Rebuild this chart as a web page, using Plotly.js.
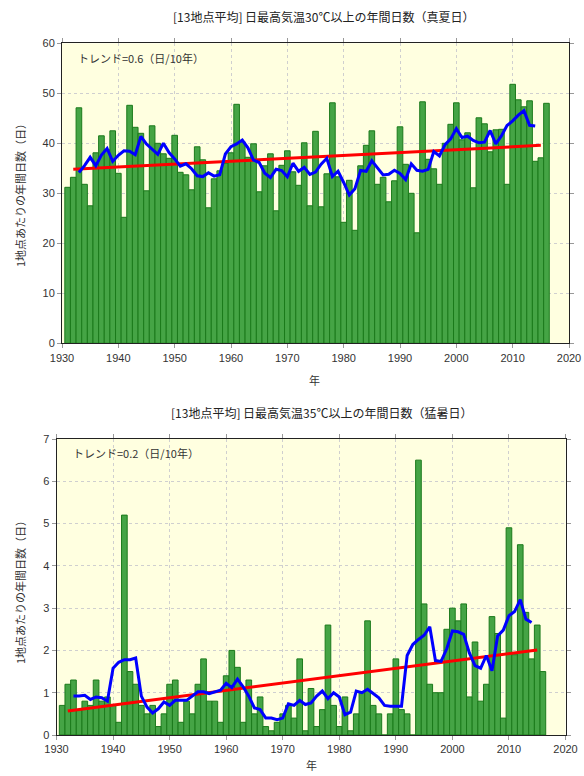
<!DOCTYPE html>
<html>
<head>
<meta charset="utf-8">
<script src="https://cdn.plot.ly/plotly-3.0.1.min.js"></script>
<style>html,body{margin:0;padding:0;background:#fff;}#chart{width:584px;height:776px;}</style>
</head>
<body>
<div id="chart"></div>
<script>
// Years of the bars
const years = [];
for (let y = 1931; y <= 2016; y++) years.push(y);

// 真夏日 (>=30°C) annual days, 1931-2016
const hotDays = [
31.2,33.2,47.1,31.8,27.5,38.1,41.5,38.7,42.5,34.0,
25.2,47.6,43.2,42.0,30.5,43.5,40.0,37.9,37.0,41.6,
34.2,33.7,30.7,39.3,36.7,27.1,32.9,34.5,36.0,38.1,
47.8,40.3,37.2,39.9,30.3,35.5,37.9,26.5,35.6,38.5,
34.3,31.6,40.1,27.5,42.4,27.3,33.9,48.1,33.3,24.2,
32.6,22.6,35.5,39.6,42.5,31.8,33.2,28.3,32.5,43.3,
35.8,30.0,22.1,48.3,36.8,34.9,31.8,40.0,43.8,48.1,
40.7,42.1,31.1,45.1,43.9,38.3,42.7,42.8,31.8,51.8,
48.7,47.3,48.5,36.4,37.1,48.0];

// 猛暑日 (>=35°C) annual days, 1931-2016
const veryHotDays = [
0.7,1.2,1.3,0.6,0.8,0.7,1.3,0.8,0.9,0.7,
0.3,5.2,1.5,1.2,0.7,0.5,0.7,0.2,0.5,1.2,
1.3,0.3,0.8,0.5,1.2,1.8,0.8,0.8,0.3,1.4,
2.0,1.6,0.3,1.3,0.5,0.9,0.2,0.1,0.3,0.5,
0.7,0.4,1.8,0.1,1.1,0.2,0.6,2.6,0.7,0.2,
0.9,0.1,0.5,1.0,2.7,0.7,0.5,0.0,0.5,1.8,
0.6,0.5,0.0,6.5,3.1,1.2,1.0,1.0,2.5,3.0,
2.7,3.1,0.9,2.2,0.8,1.2,2.8,2.4,0.4,4.9,
1.9,4.5,2.9,1.8,2.6,1.5];

// 5-year running mean years (blue line)
const maYears = [];
for (let y = 1933; y <= 2014; y++) maYears.push(y);

const hotMA = [
34.16,35.54,37.20,35.52,37.66,38.96,36.38,37.60,38.50,38.40,
37.70,41.36,39.84,38.78,37.78,40.00,38.14,36.88,35.44,35.90,
34.92,33.50,33.34,34.10,33.44,33.72,37.86,39.34,39.88,40.66,
39.10,36.64,36.16,34.02,33.16,34.80,34.56,33.30,36.02,34.40,
35.18,33.78,34.24,35.84,37.00,33.36,34.42,32.16,29.64,30.90,
34.56,34.40,36.52,35.08,33.66,33.82,34.62,33.98,32.74,35.90,
34.60,34.42,34.78,38.36,37.46,39.72,40.88,42.94,41.16,41.42,
40.58,40.10,40.22,42.56,39.90,41.48,43.56,44.48,45.62,46.54,
43.60,43.46];

const veryHotMA = [
0.92,0.92,0.94,0.84,0.90,0.88,0.80,1.58,1.72,1.78,
1.78,1.82,0.92,0.66,0.52,0.62,0.78,0.70,0.82,0.82,
0.82,0.92,1.02,1.02,0.98,1.02,1.06,1.22,1.12,1.32,
1.14,0.92,0.64,0.60,0.40,0.40,0.36,0.40,0.74,0.70,
0.82,0.72,0.76,0.92,1.04,0.86,1.00,0.90,0.48,0.54,
1.04,1.00,1.08,0.98,0.88,0.70,0.68,0.68,0.68,1.88,
2.14,2.26,2.36,2.56,1.76,1.74,2.04,2.46,2.44,2.38,
1.94,1.64,1.58,1.88,1.52,2.34,2.48,2.82,2.92,3.20,
2.74,2.66];

// Linear trend end points
const trendYears = [1932, 2015];
const hotTrend = [34.8, 39.6];
const veryHotTrend = [0.57, 2.01];

const titles = [
  "[13地点平均] 日最高気温30℃以上の年間日数（真夏日）",
  "[13地点平均] 日最高気温35℃以上の年間日数（猛暑日）"
];
const trendLabels = ["トレンド=0.6（日/10年）", "トレンド=0.2（日/10年）"];
const yTitle = "1地点あたりの年間日数（日）";
const xTitle = "年";

const barStyle = {color: "#45a445", line: {color: "#1b7a1b", width: 1}};
const traces = [
  {type: "bar", x: years, y: hotDays, xaxis: "x", yaxis: "y", marker: barStyle, hoverinfo: "skip"},
  {type: "scatter", mode: "lines", x: trendYears, y: hotTrend, xaxis: "x", yaxis: "y", line: {color: "#ff0000", width: 3}, hoverinfo: "skip"},
  {type: "scatter", mode: "lines", x: maYears, y: hotMA, xaxis: "x", yaxis: "y", line: {color: "#0000ff", width: 3}, hoverinfo: "skip"},
  {type: "bar", x: years, y: veryHotDays, xaxis: "x2", yaxis: "y2", marker: barStyle, hoverinfo: "skip"},
  {type: "scatter", mode: "lines", x: trendYears, y: veryHotTrend, xaxis: "x2", yaxis: "y2", line: {color: "#ff0000", width: 3}, hoverinfo: "skip"},
  {type: "scatter", mode: "lines", x: maYears, y: veryHotMA, xaxis: "x2", yaxis: "y2", line: {color: "#0000ff", width: 3}, hoverinfo: "skip"}
];

const tickFont = {family: "Liberation Sans, Arial, sans-serif", size: 11, color: "#333"};
function xAxis(domain, anchor) {
  return {domain: domain, anchor: anchor, range: [1930, 2020], dtick: 10, tick0: 1930,
    showgrid: true, gridcolor: "#cfcfcf", griddash: "dot", gridwidth: 1,
    showline: true, linecolor: "#222", linewidth: 1, mirror: "ticks",
    ticks: "outside", ticklen: 4, tickcolor: "#999", tickfont: tickFont, zeroline: false, fixedrange: true};
}
function yAxis(domain, anchor, range, dtick) {
  return {domain: domain, anchor: anchor, range: range, dtick: dtick,
    showgrid: true, gridcolor: "#cfcfcf", griddash: "dot", gridwidth: 1,
    showline: true, linecolor: "#222", linewidth: 1, mirror: "ticks",
    ticks: "outside", ticklen: 4, tickcolor: "#999", tickfont: tickFont, zeroline: false, fixedrange: true};
}

const jp = "Noto Sans CJK JP, sans-serif";
const layout = {
  width: 584, height: 776,
  margin: {l: 0, r: 0, t: 0, b: 0},
  paper_bgcolor: "#ffffff",
  plot_bgcolor: "#ffffe0",
  showlegend: false,
  bargap: 0,
  xaxis: xAxis([62/584, 569/584], "y"),
  yaxis: yAxis([(776-343.3)/776, (776-43.3)/776], "x", [0, 60], 10),
  xaxis2: xAxis([56.5/584, 565.5/584], "y2"),
  yaxis2: yAxis([(776-735)/776, (776-439)/776], "x2", [0, 7], 1),
  annotations: [
    {text: titles[0], xref: "paper", yref: "paper", x: 323/584, y: (776-16)/776, xanchor: "center", yanchor: "middle", showarrow: false, font: {family: jp, size: 12, color: "#222"}},
    {text: titles[1], xref: "paper", yref: "paper", x: 321/584, y: (776-412)/776, xanchor: "center", yanchor: "middle", showarrow: false, font: {family: jp, size: 12, color: "#222"}},
    {text: trendLabels[0], xref: "paper", yref: "paper", x: 76/584, y: (776-58)/776, xanchor: "left", yanchor: "middle", showarrow: false, font: {family: jp, size: 11, color: "#333"}},
    {text: trendLabels[1], xref: "paper", yref: "paper", x: 71/584, y: (776-453)/776, xanchor: "left", yanchor: "middle", showarrow: false, font: {family: jp, size: 11, color: "#333"}},
    {text: yTitle, xref: "paper", yref: "paper", x: 20/584, y: (776-193)/776, xanchor: "center", yanchor: "middle", textangle: -90, showarrow: false, font: {family: jp, size: 11, color: "#333"}},
    {text: yTitle, xref: "paper", yref: "paper", x: 20/584, y: (776-590)/776, xanchor: "center", yanchor: "middle", textangle: -90, showarrow: false, font: {family: jp, size: 11, color: "#333"}},
    {text: xTitle, xref: "paper", yref: "paper", x: 314/584, y: (776-380)/776, xanchor: "center", yanchor: "middle", showarrow: false, font: {family: jp, size: 11, color: "#333"}},
    {text: xTitle, xref: "paper", yref: "paper", x: 311/584, y: 1/776, xanchor: "center", yanchor: "bottom", showarrow: false, font: {family: jp, size: 11, color: "#333"}}
  ]
};

Plotly.newPlot("chart", traces, layout, {staticPlot: true, displayModeBar: false});
</script>
</body>
</html>
